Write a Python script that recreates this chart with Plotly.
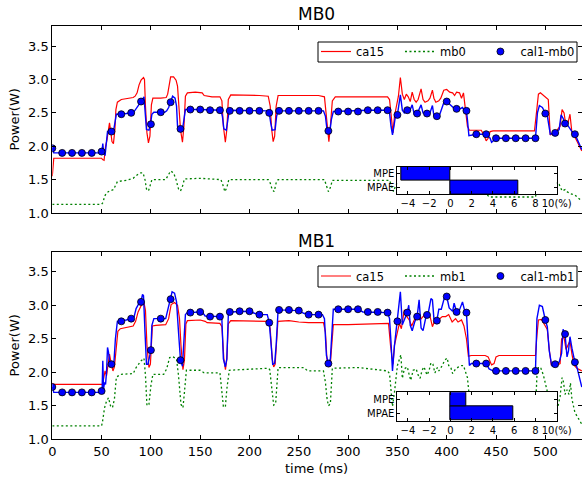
import plotly.graph_objects as go

# ---------------- MB0 panel ----------------
mb0_ca15_t = [0, 0.8, 1.5, 50, 51, 52.5, 54, 55.5, 57, 58, 59, 60.5, 62, 63.5, 64.5, 66, 70, 76, 82, 84, 86, 88, 90,
              92.5, 93.5, 94.5, 96, 97.5, 99, 100.5, 102, 110, 115.5, 117, 118.5, 120, 123, 125.5, 127, 128.5, 130,
              132, 133.5, 135, 137, 145, 152, 154, 162, 170, 172, 173.5, 175.5, 177, 178.5, 181, 190, 200, 210, 219,
              221, 222.5, 224, 225.5, 227, 229, 240, 250, 260, 270, 276, 278, 280.5, 282, 284, 287, 300, 320, 340,
              342, 344, 345.5, 347, 349, 351, 353, 355, 357, 359, 361, 363, 365, 367, 369, 371, 374, 376, 378, 381,
              383, 385.5, 387, 389, 392, 394, 397, 400, 403, 406, 408, 410, 413, 415, 417, 419, 421, 423, 435, 438,
              440, 442, 444, 447, 460, 480, 489, 491, 493, 495, 498, 501, 503, 505, 508, 512, 515, 517, 519, 521,
              523, 525, 527, 530, 533, 535, 537]
mb0_ca15_w = [1.55, 1.78, 1.82, 1.82, 1.80, 1.79, 2.00, 2.10, 2.30, 2.35, 2.25, 2.07, 2.04, 2.25, 2.55, 2.66, 2.70,
              2.71, 2.73, 2.75, 2.80, 2.92, 2.99, 3.03, 3.00, 2.60, 2.20, 2.05, 2.15, 2.62, 2.72, 2.72, 2.73, 2.78,
              2.95, 3.04, 3.04, 2.99, 2.90, 2.50, 2.25, 2.06, 2.30, 2.75, 2.80, 2.81, 2.80, 2.76, 2.74, 2.74, 2.68,
              2.30, 2.06, 2.25, 2.70, 2.77, 2.77, 2.76, 2.76, 2.75, 2.60, 2.25, 2.07, 2.15, 2.60, 2.76, 2.76, 2.755,
              2.755, 2.76, 2.74, 2.40, 2.07, 2.30, 2.68, 2.74, 2.74, 2.745, 2.74, 2.70, 2.40, 2.20, 2.45, 2.62, 2.75,
              3.03, 2.78, 2.70, 2.78, 2.74, 2.67, 2.81, 2.70, 2.66, 2.70, 2.86, 2.70, 2.66, 2.68, 2.72, 2.84, 2.72,
              2.66, 2.68, 2.72, 2.84, 2.85, 2.81, 2.80, 2.76, 2.81, 2.80, 2.72, 2.80, 2.55, 2.30, 2.24, 2.24, 2.16,
              2.08, 2.12, 2.22, 2.23, 2.23, 2.23, 2.23, 2.50, 2.78, 2.80, 2.76, 2.72, 2.70, 2.17, 2.20, 2.24, 2.30,
              2.55, 2.50, 2.30, 2.35, 2.48, 2.20, 2.14, 2.05, 1.98, 1.93]

mb0_meas_t = [0, 50, 51.5, 53, 55, 58, 62, 64, 66, 75, 82, 86, 89, 92, 94, 95.5, 97.5, 99, 101, 115, 117.5, 120,
              123, 125.5, 128, 130, 132, 134, 150, 165, 171, 173, 175, 177, 179, 219, 221, 223, 225, 227, 229, 276,
              278, 280, 282, 284, 342, 344, 346, 348, 351, 355, 360, 365, 370, 375, 380, 386, 390, 398, 410, 418,
              421, 424, 440, 443, 490, 492, 497, 505, 508, 511, 514, 517, 520, 522, 525, 530, 534, 537]
mb0_meas_w = [1.13, 1.13, 1.16, 1.25, 1.30, 1.33, 1.35, 1.42, 1.47, 1.49, 1.52, 1.57, 1.60, 1.60, 1.50, 1.36, 1.33,
              1.40, 1.50, 1.50, 1.57, 1.63, 1.60, 1.50, 1.36, 1.33, 1.40, 1.51, 1.52, 1.50, 1.50, 1.42, 1.32, 1.38,
              1.50, 1.50, 1.45, 1.35, 1.32, 1.45, 1.50, 1.50, 1.40, 1.32, 1.38, 1.49, 1.49, 1.40, 1.32, 1.40, 1.48,
              1.62, 1.50, 1.55, 1.48, 1.58, 1.47, 1.57, 1.46, 1.60, 1.55, 1.56, 1.40, 1.30, 1.29, 1.24, 1.24, 1.40,
              1.55, 1.50, 1.40, 1.45, 1.43, 1.33, 1.35, 1.32, 1.29, 1.27, 1.22, 1.18]

mb0_model_t = [0, 1.5, 49, 50.5, 51.2, 52, 53.5, 55, 56, 62, 63.5, 65, 75, 80, 83, 86, 90, 93, 94.2, 95.5, 98, 99.5,
               101, 103, 114, 116, 118, 120, 122, 124.5, 126, 127, 128.5, 132, 133.5, 135, 150, 165, 171, 172.5,
               174, 176.5, 178, 179.5, 219, 220, 221.5, 223, 226, 227.5, 229, 275, 277, 278.5, 281.5, 283, 285,
               320, 340, 342, 343.5, 345, 346.5, 348, 350, 353, 355, 357, 360, 363, 365, 367, 370, 374, 376, 380,
               383, 385.5, 387, 390, 393, 397, 400, 404, 408, 412, 416, 418, 420, 421, 422.5, 430, 440, 444, 445.5,
               447, 449, 490, 492, 494, 497, 500, 502, 505, 510, 514, 516, 518, 520, 522, 524, 527, 530, 533, 535,
               537]
mb0_model_w = [1.97, 1.90, 1.90, 1.93, 2.04, 1.92, 1.86, 2.10, 2.22, 2.22, 2.35, 2.48, 2.49, 2.50, 2.52, 2.58, 2.67,
               2.74, 2.55, 2.25, 2.24, 2.32, 2.48, 2.51, 2.51, 2.53, 2.58, 2.66, 2.75, 2.72, 2.60, 2.30, 2.25, 2.25,
               2.45, 2.55, 2.55, 2.54, 2.54, 2.45, 2.26, 2.24, 2.40, 2.54, 2.53, 2.50, 2.35, 2.24, 2.25, 2.45, 2.53,
               2.53, 2.45, 2.26, 2.22, 2.40, 2.52, 2.54, 2.54, 2.50, 2.30, 2.17, 2.30, 2.45, 2.47, 2.77, 2.54, 2.50,
               2.54, 2.55, 2.62, 2.48, 2.49, 2.62, 2.50, 2.49, 2.50, 2.61, 2.46, 2.45, 2.48, 2.65, 2.67, 2.61, 2.56,
               2.55, 2.58, 2.53, 2.53, 2.40, 2.16, 2.18, 2.18, 2.12, 2.06, 2.08, 2.12, 2.12, 2.50, 2.61, 2.58, 2.50,
               2.46, 2.18, 2.20, 2.25, 2.47, 2.42, 2.34, 2.33, 2.28, 2.22, 2.18, 2.08, 2.00, 1.95]

mb0_cal_t = list(range(0, 540, 10))
mb0_cal_w = [1.97, 1.90, 1.90, 1.90, 1.90, 1.92, 2.22, 2.48, 2.50, 2.67, 2.33, 2.51, 2.66, 2.26, 2.55, 2.55, 2.54,
             2.54, 2.53, 2.53, 2.53, 2.53, 2.50, 2.53, 2.53, 2.53, 2.53, 2.53, 2.23, 2.52, 2.52, 2.52, 2.54, 2.54,
             2.54, 2.47, 2.54, 2.49, 2.49, 2.45, 2.67, 2.56, 2.53, 2.18, 2.18, 2.12, 2.12, 2.12, 2.12, 2.12, 2.49,
             2.20, 2.34, 2.18]

# ---------------- MB1 panel ----------------
mb1_ca15_t = [0, 1, 51, 52, 53.5, 55, 56.5, 58, 59.5, 61.5, 63, 65, 66.5, 69, 75, 82, 84.5, 87, 90, 93, 94.5, 96, 98,
              99.5, 101.5, 105, 115, 118, 120.5, 124, 127, 129, 130.5, 132.5, 134, 135.5, 137, 150, 155, 157, 170,
              172, 174, 175.6, 177, 178.5, 181, 219, 221, 223, 224.5, 226, 228.8, 240, 250, 260, 275, 277, 278.5,
              280.5, 282, 285, 300, 320, 341, 343, 345.5, 347, 349, 352, 354, 355.5, 357, 359, 362, 364.5, 367, 370,
              373, 376.5, 380, 383, 385.5, 388, 391.5, 395.5, 399, 402, 405.5, 409, 411.5, 415, 417.5, 420, 422, 425,
              439, 442, 445.5, 448, 450, 453, 490, 491.5, 493, 496, 499, 502, 504, 506, 512, 515, 516.5, 519, 521,
              523, 525, 527, 529, 532, 536, 537]
mb1_ca15_w = [1.84, 1.82, 1.82, 1.92, 2.02, 1.95, 2.10, 2.27, 2.15, 2.02, 2.08, 2.42, 2.61, 2.65, 2.67, 2.69, 2.76,
              2.90, 2.99, 3.04, 2.92, 2.40, 2.07, 2.12, 2.69, 2.70, 2.71, 2.80, 3.01, 3.04, 3.00, 2.80, 2.40, 2.04,
              2.18, 2.72, 2.77, 2.78, 2.76, 2.74, 2.73, 2.68, 2.20, 2.04, 2.20, 2.72, 2.77, 2.76, 2.65, 2.20, 2.08,
              2.12, 2.76, 2.77, 2.75, 2.74, 2.74, 2.60, 2.20, 2.08, 2.13, 2.71, 2.71, 2.72, 2.73, 2.40, 2.12, 2.40,
              2.52, 2.73, 2.65, 2.78, 2.93, 2.84, 2.78, 2.69, 2.78, 2.83, 2.78, 2.84, 2.85, 2.84, 2.68, 2.78, 2.78,
              2.83, 2.83, 2.86, 2.75, 2.80, 2.75, 2.78, 2.69, 2.50, 2.24, 2.25, 2.25, 2.23, 2.11, 2.13, 2.23, 2.25,
              2.25, 2.55, 2.78, 2.79, 2.72, 2.64, 2.34, 2.11, 2.11, 2.13, 2.50, 2.52, 2.34, 2.40, 2.47, 2.27, 2.11,
              2.06, 2.03, 2.02]

mb1_meas_t = [0, 50, 51, 52, 53, 55, 57, 59, 61, 63, 65, 70, 82, 85, 90, 93, 94.5, 96, 98, 100, 102, 113, 116, 119,
              122.5, 126, 128, 130.5, 132.5, 134, 136, 150, 154, 170, 172, 173.5, 175.5, 177, 179.5, 219, 220.5, 222,
              223.5, 224.5, 226.5, 228, 229, 255, 259, 275, 277, 278.5, 280, 282, 283, 284, 310, 320, 340, 342,
              343.5, 345, 347, 348.5, 350, 353.5, 355, 357, 360, 362, 363.5, 366, 369, 371, 373, 375, 377, 380, 382,
              384, 386, 388, 390.5, 392, 395.5, 398, 400.5, 402, 404, 406, 409, 412, 415, 417, 419, 421, 422.5, 425,
              445, 447, 490, 491.5, 493, 495.5, 498, 500, 502, 504, 508, 512.8, 515, 517, 518.5, 520, 522, 524,
              525.5, 527, 530, 533.5, 536, 537]
mb1_meas_w = [1.20, 1.20, 1.27, 1.42, 1.47, 1.57, 1.62, 1.50, 1.47, 1.60, 1.93, 1.97, 1.98, 2.07, 2.17, 2.21, 1.95,
              1.50, 1.52, 1.80, 1.97, 1.97, 2.05, 2.22, 2.23, 2.20, 1.95, 1.52, 1.47, 1.70, 2.03, 2.03, 1.99, 1.99,
              1.75, 1.49, 1.48, 1.75, 2.03, 2.06, 2.04, 1.80, 1.55, 1.51, 1.53, 1.80, 2.07, 2.07, 2.02, 2.02, 1.85,
              1.62, 1.50, 1.53, 1.80, 2.06, 2.07, 2.05, 2.02, 1.98, 1.75, 1.49, 1.70, 1.90, 2.10, 2.26, 1.91, 2.05,
              2.08, 1.96, 1.88, 2.03, 2.05, 1.96, 1.91, 2.03, 2.08, 1.96, 2.02, 2.14, 2.12, 1.99, 2.07, 2.02, 2.10,
              2.18, 2.21, 2.10, 2.08, 1.98, 2.05, 2.08, 2.10, 2.10, 2.02, 1.92, 1.70, 1.45, 1.44, 1.42, 1.43, 1.95,
              2.08, 2.06, 1.96, 1.84, 1.72, 1.59, 1.52, 1.49, 1.64, 1.92, 1.85, 1.67, 1.74, 1.67, 1.84, 1.60, 1.40,
              1.30, 1.25, 1.23]

mb1_model_t = [0, 1.5, 49, 50.5, 51.2, 52, 53, 54, 55, 56, 57, 58.5, 61, 62.5, 64, 66, 75, 80, 83, 85, 88, 90, 91.5,
               92.5, 94, 95.5, 97, 99, 100, 101, 103, 115, 117, 120, 121.5, 124, 126, 128, 130, 132, 133.5, 135, 137,
               150, 153, 155, 170, 172, 173.5, 175.5, 177, 178.5, 180, 200, 205, 210, 218, 220, 222, 223.5, 225.5,
               227, 229, 250, 255, 260, 274, 276, 278, 280, 282, 283.5, 285, 310, 315, 340, 342, 343.5, 345, 347,
               350, 353, 355, 357.5, 360, 361.5, 363, 365, 367.5, 370, 372, 374, 376, 379, 381, 384, 385.5, 387, 390,
               392, 394.5, 396.5, 398, 400, 402.5, 406, 407.5, 410, 413, 416, 418, 420, 421.5, 423, 425, 440, 443,
               447, 490, 491.5, 494, 497, 500, 502, 504, 506.5, 510, 514, 516.5, 518, 520, 522, 523.5, 525, 527, 530,
               532, 534, 536, 537]
mb1_model_w = [1.78, 1.70, 1.70, 1.72, 2.17, 1.75, 1.85, 1.82, 2.00, 2.37, 2.30, 2.12, 2.12, 2.15, 2.50, 2.76, 2.78,
               2.80, 2.83, 2.95, 3.03, 3.06, 3.16, 3.14, 2.60, 2.12, 2.12, 2.25, 2.33, 2.70, 2.80, 2.80, 2.92, 3.09,
               3.20, 3.18, 3.05, 2.60, 2.18, 2.09, 2.60, 2.86, 2.89, 2.90, 2.88, 2.84, 2.83, 2.78, 2.20, 2.08, 2.20,
               2.85, 2.90, 2.91, 2.88, 2.86, 2.86, 2.74, 2.40, 2.12, 2.13, 2.40, 2.93, 2.92, 2.88, 2.86, 2.86, 2.80,
               2.25, 2.13, 2.20, 2.60, 2.94, 2.94, 2.90, 2.89, 2.80, 2.45, 2.02, 2.40, 2.76, 3.20, 2.71, 2.80, 2.89,
               3.00, 2.70, 2.62, 2.75, 2.83, 3.08, 2.66, 2.62, 2.83, 2.86, 3.10, 3.08, 2.80, 2.77, 2.94, 2.94, 3.05,
               3.13, 3.13, 2.96, 2.91, 3.03, 2.90, 2.93, 3.05, 2.93, 2.89, 2.50, 2.10, 2.13, 2.13, 2.05, 2.02, 2.02,
               2.80, 3.00, 2.98, 2.78, 2.68, 2.32, 2.10, 2.12, 2.15, 2.28, 2.64, 2.57, 2.23, 2.32, 2.53, 2.36, 2.15,
               2.08, 1.96, 1.82, 1.78]

mb1_cal_t = list(range(0, 540, 10))
mb1_cal_w = [1.78, 1.70, 1.70, 1.70, 1.70, 1.72, 2.12, 2.76, 2.80, 3.05, 2.33, 2.80, 3.09, 2.18, 2.89, 2.90, 2.83,
             2.83, 2.90, 2.91, 2.91, 2.86, 2.74, 2.93, 2.93, 2.92, 2.86, 2.86, 2.13, 2.94, 2.94, 2.94, 2.90, 2.90,
             2.89, 2.76, 2.89, 2.83, 2.855, 2.77, 3.13, 2.90, 2.89, 2.13, 2.13, 2.02, 2.02, 2.02, 2.02, 2.02, 2.78,
             2.12, 2.57, 2.15]

# ---------------- error summaries (%) ----------------
err_labels = ["MPAE", "MPE"]
mb0_err = [6.4, -4.6]
mb1_err = [5.9, 1.5]

x_ticks = list(range(0, 550, 50))
y_ticks = [1.0, 1.5, 2.0, 2.5, 3.0, 3.5]
err_ticks = [-4, -2, 0, 2, 4, 6, 8, 10]
err_ticktext = ["\u22124", "\u22122", "0", "2", "4", "6", "8", "10(%)"]

FONT = "DejaVu Sans"
RED, GREEN, BLUE = "#ff0000", "#008000", "#0000ff"
# column spacing inside the legends
GAP1 = "\u00a0" * 3
GAP2 = "\u00a0" * 2 + "\u2009"

fig = go.Figure()


def add_panel(xa, ya, leg, ca_t, ca_w, me_t, me_w, mo_t, mo_w, cal_t, cal_w, me_name, cal_name):
    fig.add_trace(go.Scatter(x=ca_t, y=ca_w, mode="lines", name="ca15" + GAP1, legend=leg,
                             line=dict(color=RED, width=1.2), xaxis=xa, yaxis=ya))
    fig.add_trace(go.Scatter(x=me_t, y=me_w, mode="lines", name=me_name + GAP2, legend=leg,
                             line=dict(color=GREEN, width=1.3, dash="2px,2.5px"), xaxis=xa, yaxis=ya))
    fig.add_trace(go.Scatter(x=mo_t, y=mo_w, mode="lines", showlegend=False,
                             line=dict(color=BLUE, width=1.4), xaxis=xa, yaxis=ya))
    fig.add_trace(go.Scatter(x=cal_t, y=cal_w, mode="markers", name=cal_name, legend=leg,
                             marker=dict(color=BLUE, size=7, line=dict(color="black", width=0.8)),
                             xaxis=xa, yaxis=ya))


add_panel("x", "y", "legend", mb0_ca15_t, mb0_ca15_w, mb0_meas_t, mb0_meas_w, mb0_model_t, mb0_model_w,
          mb0_cal_t, mb0_cal_w, "mb0", "cal1-mb0")
add_panel("x2", "y2", "legend2", mb1_ca15_t, mb1_ca15_w, mb1_meas_t, mb1_meas_w, mb1_model_t, mb1_model_w,
          mb1_cal_t, mb1_cal_w, "mb1", "cal1-mb1")

for xa, ya, vals in (("x3", "y3", mb0_err), ("x4", "y4", mb1_err)):
    fig.add_trace(go.Bar(x=vals, y=[0, 1], orientation="h", width=1, showlegend=False,
                         marker=dict(color=BLUE, line=dict(color="black", width=1)),
                         xaxis=xa, yaxis=ya))

W, H = 582, 481
px_x = lambda p: p / W
px_y = lambda p: 1 - p / H

main_x = dict(range=[0, 537.2], domain=[px_x(52.3), 1.0], tickmode="array", tickvals=x_ticks,
              ticks="inside", ticklen=4, tickwidth=1, tickcolor="black", mirror="ticks",
              showline=True, linecolor="black", linewidth=1, showgrid=False, zeroline=False,
              tickfont=dict(family=FONT, size=13, color="black"))
main_y = dict(range=[1.0, 3.8], tickmode="array", tickvals=y_ticks, tickformat=".1f",
              ticks="inside", ticklen=4, tickwidth=1, tickcolor="black", mirror="ticks",
              showline=True, linecolor="black", linewidth=1, showgrid=False, zeroline=False,
              tickfont=dict(family=FONT, size=13, color="black"))
inset_x = dict(range=[-5, 10], domain=[px_x(397.3), px_x(556.7)], tickmode="array", tickvals=err_ticks,
               ticktext=err_ticktext, ticks="inside", ticklen=3, tickwidth=1, tickcolor="black",
               mirror="ticks", showline=True, linecolor="black", linewidth=1, showgrid=False,
               zeroline=False, tickfont=dict(family=FONT, size=10, color="black"))
inset_y = dict(range=[-0.5, 1.5], tickmode="array", tickvals=[0, 1], ticktext=err_labels,
               ticks="inside", ticklen=3, tickwidth=1, tickcolor="black", mirror="ticks",
               showline=True, linecolor="black", linewidth=1, showgrid=False, zeroline=False,
               tickfont=dict(family=FONT, size=10, color="black"))

legend_style = dict(orientation="h", xanchor="left", yanchor="top", bgcolor="rgba(0,0,0,0)",
                    borderwidth=0, font=dict(family=FONT, size=11.5, color="black"))


def label(text, x, y, size=13, angle=0):
    return dict(text=text, x=px_x(x), y=px_y(y), xref="paper", yref="paper", showarrow=False,
                xanchor="center", yanchor="middle", textangle=angle,
                font=dict(family=FONT, size=size, color="black"))


def legend_frame(top, bottom):
    return dict(type="rect", xref="paper", yref="paper", x0=px_x(318), x1=px_x(577),
                y0=px_y(bottom), y1=px_y(top), fillcolor="white", line=dict(color="black", width=1),
                layer="above")


fig.update_layout(
    width=W, height=H, margin=dict(l=0, r=0, t=0, b=0, pad=0, autoexpand=False),
    paper_bgcolor="white", plot_bgcolor="white", showlegend=True,
    font=dict(family=FONT, color="black"),
    xaxis=dict(main_x, anchor="y", showticklabels=False),
    yaxis=dict(main_y, anchor="x", domain=[px_y(213), px_y(26.1)]),
    xaxis2=dict(main_x, anchor="y2"),
    yaxis2=dict(main_y, anchor="x2", domain=[px_y(439.3), px_y(251.6)]),
    xaxis3=dict(inset_x, anchor="y3"),
    yaxis3=dict(inset_y, anchor="x3", domain=[px_y(194.4), px_y(166.6)]),
    xaxis4=dict(inset_x, anchor="y4"),
    yaxis4=dict(inset_y, anchor="x4", domain=[px_y(420.6), px_y(392.3)]),
    legend=dict(legend_style, x=px_x(316), y=px_y(37)),
    legend2=dict(legend_style, x=px_x(316), y=px_y(261.5)),
    bargap=0,
    shapes=[legend_frame(42, 62), legend_frame(266, 287)],
    annotations=[
        label("MB0", 316.5, 14, size=17),
        label("MB1", 316.5, 241, size=17),
        label("Power(W)", 14, 119.5, angle=-90),
        label("Power(W)", 14, 345.5, angle=-90),
        label("time (ms)", 316.5, 468),
    ],
)

fig.write_html("out.html")
